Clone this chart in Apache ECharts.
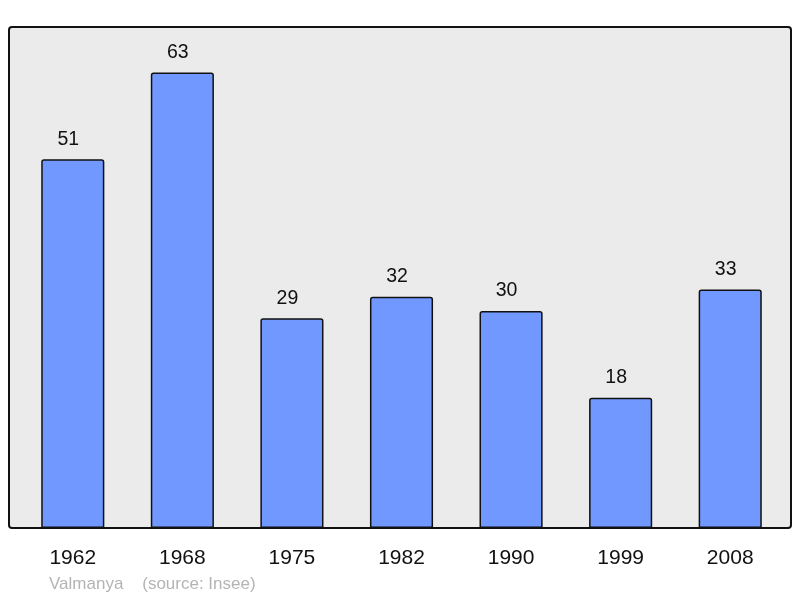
<!DOCTYPE html>
<html lang="fr">
<head>
    <meta charset="UTF-8">
    <title>Valmanya</title>
    <script type="text/javascript" src="https://cdn.jsdelivr.net/npm/echarts@6/dist/echarts.min.js"></script>
    <style>
        html, body { margin: 0; padding: 0; background: #fff; }
    </style>
</head>
<body>
    <div id="container" style="width:800px;height:598px"></div>

    <script type="text/javascript">
        // population par recensement
        var years = ['1962', '1968', '1975', '1982', '1990', '1999', '2008'];
        var population = [51, 63, 29, 32, 30, 18, 33];

        var dom = document.getElementById("container");
        var myChart = echarts.init(dom);

        var option = {
            animation: false,
            backgroundColor: '#ffffff',
            textStyle: { fontFamily: 'Liberation Sans, Arial, sans-serif' },
            graphic: [
                {
                    // fond gris du cadre
                    type: 'rect',
                    z: -10,
                    shape: { x: 9, y: 27, width: 782, height: 501, r: 3 },
                    style: { fill: '#ebebeb', stroke: '#111', lineWidth: 2 }
                },
                {
                    type: 'text',
                    left: 49,
                    top: 576,
                    style: {
                        text: 'Valmanya    (source: Insee)',
                        fill: '#b4b4b4',
                        font: '17px Liberation Sans, Arial, sans-serif'
                    }
                }
            ],
            grid: {
                left: 18,
                right: 15,
                top: 27,
                bottom: 70
            },
            xAxis: {
                type: 'category',
                data: years,
                axisLine: { show: false },
                axisTick: { show: false },
                axisLabel: {
                    color: '#111',
                    fontSize: 21,
                    margin: 20
                }
            },
            yAxis: {
                type: 'value',
                min: 0,
                max: 69.3,
                show: false,
                splitLine: { show: false }
            },
            series: [
                {
                    type: 'bar',
                    data: population,
                    barWidth: '57.6%',
                    itemStyle: {
                        color: '#7098ff',
                        borderColor: '#111',
                        borderWidth: 1.5,
                        borderRadius: [2, 2, 0, 0]
                    },
                    label: {
                        show: true,
                        position: 'top',
                        distance: 10,
                        offset: [-4.5, 0],
                        color: '#111',
                        fontSize: 19.5
                    }
                }
            ]
        };

        myChart.setOption(option, true);
    </script>
</body>
</html>
